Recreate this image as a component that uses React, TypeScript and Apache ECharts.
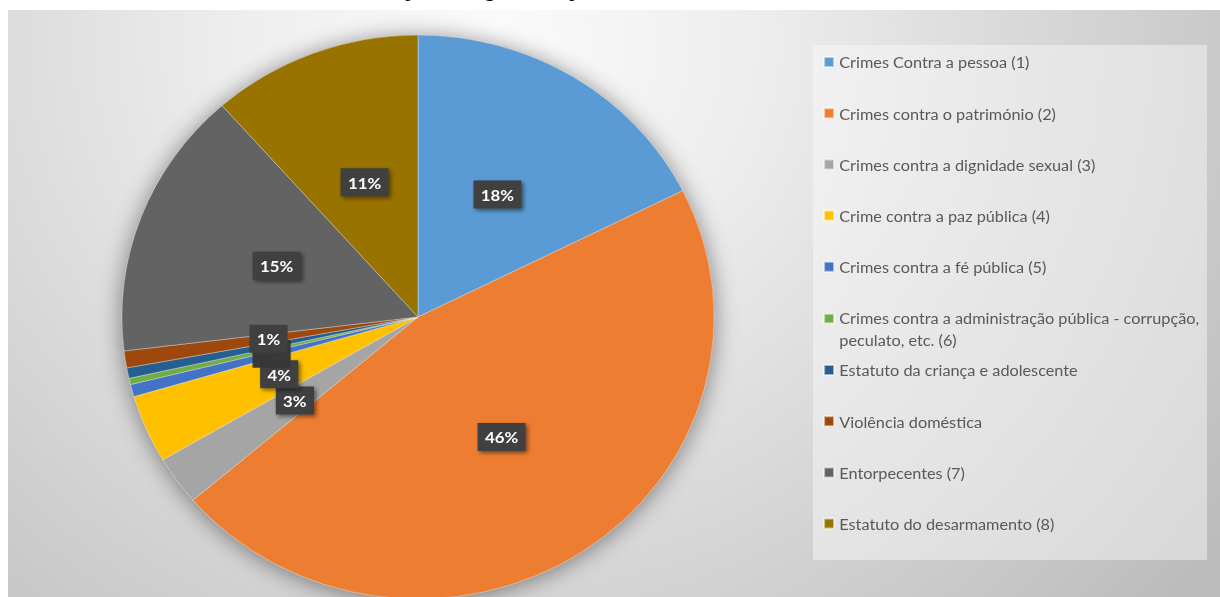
import React, { useEffect, useRef } from 'react';
import * as echarts from 'echarts';

// Horizontal stretch of the original picture (the pie is an ellipse there)
const SX = 1.05;
const W = 1220 / SX;
const H = 597;

const categories = [
  'Crimes Contra a pessoa (1)',
  'Crimes contra o património (2)',
  'Crimes contra a dignidade sexual (3)',
  'Crime contra a paz pública (4)',
  'Crimes contra a fé pública (5)',
  'Crimes contra a administração pública - corrupção, peculato, etc. (6)',
  'Estatuto da criança e adolescente',
  'Violência doméstica',
  'Entorpecentes (7)',
  'Estatuto do desarmamento (8)',
];
const values = [17.6, 46.1, 2.8, 3.9, 0.7, 0.36, 0.6, 0.97, 15.4, 11.5];
const colors = ['#5B9BD5', '#ED7D31', '#A5A5A5', '#FFC000', '#4472C4', '#70AD47', '#255E91', '#9E480E', '#636363', '#997300'];
// labels hidden under the "1%" label box in the original
const coveredLabels = [4, 5, 6];
const stackedLabel = 7;
const titleText = 'porcentagem/ano para cada ano.';

export default function App() {
  const ref = useRef<HTMLDivElement>(null);
  useEffect(() => {
    document.body.style.margin = '0';
    const chart = echarts.init(ref.current as HTMLDivElement, null, { renderer: 'svg' });
    const data = categories.map((name, i) => {
      const d: any = { name, value: values[i] };
      if (coveredLabels.includes(i)) d.label = { show: false };
      if (i === stackedLabel) {
        d.label = { shadowColor: 'rgba(52,52,52,0.97)', shadowBlur: 1, shadowOffsetX: 3, shadowOffsetY: 15 };
      }
      return d;
    });
    const legendText = { fontFamily: 'Lato', fontSize: 15.5, color: '#595959', lineHeight: 22 };
    const legendCommon = {
      orient: 'vertical',
      left: 823 / SX,
      padding: 0,
      itemWidth: 10 / SX,
      itemHeight: 10,
      itemGap: 29.2,
      icon: 'rect',
      selectedMode: false,
      formatter: (name: string) => name.replace('corrupção, ', 'corrupção,\n'),
      textStyle: legendText,
    };
    chart.setOption({
      animation: false,
      color: colors,
      graphic: [
        {
          type: 'rect',
          z: -10,
          silent: true,
          shape: { x: 8 / SX, y: 10, width: W, height: H },
          style: {
            fill: {
              type: 'radial', x: 470, y: 40, r: 850, global: true,
              colorStops: [
                { offset: 0, color: '#fbfbfb' },
                { offset: 0.3, color: '#ededed' },
                { offset: 0.6, color: '#d8d8d8' },
                { offset: 0.85, color: '#c7c7c7' },
                { offset: 1, color: '#bcbcbc' },
              ],
            },
          },
        },
        {
          type: 'rect',
          z: -9,
          silent: true,
          shape: { x: 813 / SX, y: 45, width: (1207 - 813) / SX, height: 515 },
          style: { fill: 'rgba(250,250,250,0.45)' },
        },
        {
          type: 'text',
          z: -8,
          x: 405 / SX,
          y: -12,
          scaleX: 1 / SX,
          silent: true,
          style: { text: titleText, font: '23px "Liberation Serif", "Times New Roman", serif', fill: '#000', verticalAlign: 'middle' },
        },
      ],
      legend: [
        { ...legendCommon, top: 51, data: categories.slice(0, 5) },
        {
          ...legendCommon,
          top: 307,
          itemHeight: 32,
          data: [{ name: categories[5], icon: 'path://M0,0L10,0L10,10L0,10Z M0,31.98L0.02,31.98L0.02,32L0,32Z' }],
        },
        { ...legendCommon, top: 359, data: categories.slice(6) },
      ],
      series: [
        {
          type: 'pie',
          name: 'shadow',
          silent: true,
          z: 1,
          center: [418 / SX, 317],
          radius: 282,
          label: { show: false },
          labelLine: { show: false },
          itemStyle: { color: '#999', shadowBlur: 22, shadowColor: 'rgba(0,0,0,0.45)', shadowOffsetY: 2 },
          emphasis: { disabled: true },
          data: [{ name: '', value: 1 }],
        },
        {
          type: 'pie',
          z: 2,
          center: [418 / SX, 317],
          radius: 282,
          startAngle: 90,
          clockwise: true,
          percentPrecision: 0,
          emphasis: { disabled: true },
          labelLayout: { hideOverlap: false },
          itemStyle: { borderColor: 'rgba(255,255,255,0.55)', borderWidth: 0.6 },
          label: {
            show: true,
            position: 'inside',
            formatter: '{d}%',
            color: '#ffffff',
            fontFamily: 'Lato',
            fontWeight: 'bold',
            fontSize: 16,
            lineHeight: 18,
            padding: [5, 7],
            backgroundColor: '#3f3f3f',
            shadowColor: 'rgba(0,0,0,0.5)',
            shadowBlur: 4,
            shadowOffsetX: 2,
            shadowOffsetY: 2,
          },
          labelLine: { show: false },
          data,
        },
      ],
    });
    return () => chart.dispose();
  }, []);
  return (
    <div style={{ position: 'absolute', left: 0, top: 0, width: 1220, height: 597, overflow: 'hidden', background: '#fff' }}>
      <div ref={ref} style={{ width: W, height: H, transform: `scaleX(${SX})`, transformOrigin: '0 0' }} />
    </div>
  );
}
